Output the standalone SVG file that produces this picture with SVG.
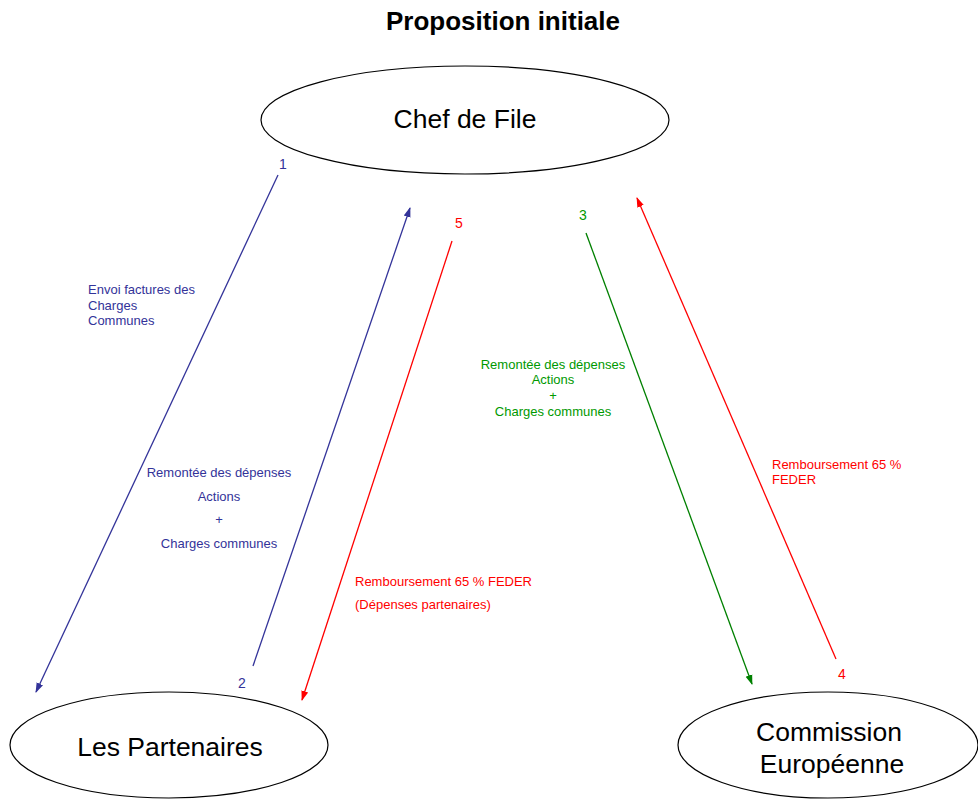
<svg xmlns="http://www.w3.org/2000/svg" width="978" height="799" viewBox="0 0 978 799">
<defs>
<style>
text{font-family:"Liberation Sans",Arial,sans-serif}
.node{fill:#fff;stroke:#000;stroke-width:1.2}
.nt{font-size:26.5px;fill:#000;text-anchor:middle}
.lbl{font-size:13px}
.num{font-size:14px;text-anchor:middle}
.blue{fill:#333399}
.green{fill:#009900}
.red{fill:#ff0000}
.c{fill:none;stroke-width:1.3}
</style>
<marker id="mb" markerWidth="10" markerHeight="10" refX="9" refY="5" orient="auto" markerUnits="userSpaceOnUse"><path d="M0,1.5 L10,5 L0,8.5 Z" fill="#333399"/></marker>
<marker id="mg" markerWidth="10" markerHeight="10" refX="9" refY="5" orient="auto" markerUnits="userSpaceOnUse"><path d="M0,1.5 L10,5 L0,8.5 Z" fill="#008000"/></marker>
<marker id="mr" markerWidth="10" markerHeight="10" refX="9" refY="5" orient="auto" markerUnits="userSpaceOnUse"><path d="M0,1.5 L10,5 L0,8.5 Z" fill="#ff0000"/></marker>
</defs>
<rect width="978" height="799" fill="#fff"/>
<text x="503" y="30" font-size="26" font-weight="bold" text-anchor="middle">Proposition initiale</text>

<g id="chef">
<ellipse class="node" cx="465" cy="120" rx="204" ry="54"/>
<text class="nt" x="465" y="128">Chef de File</text>
</g>
<g id="partenaires">
<ellipse class="node" cx="169" cy="745" rx="159" ry="53"/>
<text class="nt" x="170" y="756">Les Partenaires</text>
</g>
<g id="commission">
<ellipse class="node" cx="828" cy="745" rx="150" ry="53"/>
<text class="nt" x="829" y="741">Commission</text>
<text class="nt" x="832" y="773">Européenne</text>
</g>

<g id="connectors">
<line class="c" x1="278" y1="175" x2="36" y2="692" stroke="#333399" marker-end="url(#mb)"/>
<line class="c" x1="253" y1="666" x2="410" y2="208" stroke="#333399" marker-end="url(#mb)"/>
<line class="c" x1="452" y1="241" x2="302" y2="700" stroke="#ff0000" marker-end="url(#mr)"/>
<line class="c" x1="586" y1="233" x2="752" y2="684" stroke="#008000" marker-end="url(#mg)"/>
<line class="c" x1="836" y1="659" x2="637" y2="198" stroke="#ff0000" marker-end="url(#mr)"/>
</g>

<g id="labels">
<text class="num blue" x="283" y="169">1</text>
<text class="num blue" x="242" y="688">2</text>
<text class="num green" x="583" y="220">3</text>
<text class="num red" x="842" y="679">4</text>
<text class="num red" x="459" y="228">5</text>

<text class="lbl blue" x="88" y="294">Envoi factures des</text>
<text class="lbl blue" x="88" y="310">Charges</text>
<text class="lbl blue" x="88" y="325">Communes</text>

<text class="lbl blue" text-anchor="middle" x="219" y="477">Remontée des dépenses</text>
<text class="lbl blue" text-anchor="middle" x="219" y="501">Actions</text>
<text class="lbl blue" text-anchor="middle" x="219" y="524">+</text>
<text class="lbl blue" text-anchor="middle" x="219" y="548">Charges communes</text>

<text class="lbl red" x="355" y="586">Remboursement 65 % FEDER</text>
<text class="lbl red" x="355" y="609">(Dépenses partenaires)</text>

<text class="lbl green" text-anchor="middle" x="553" y="369">Remontée des dépenses</text>
<text class="lbl green" text-anchor="middle" x="553" y="384">Actions</text>
<text class="lbl green" text-anchor="middle" x="553" y="400">+</text>
<text class="lbl green" text-anchor="middle" x="553" y="416">Charges communes</text>

<text class="lbl red" x="772" y="469">Remboursement 65 %</text>
<text class="lbl red" x="772" y="484">FEDER</text>
</g>
</svg>
